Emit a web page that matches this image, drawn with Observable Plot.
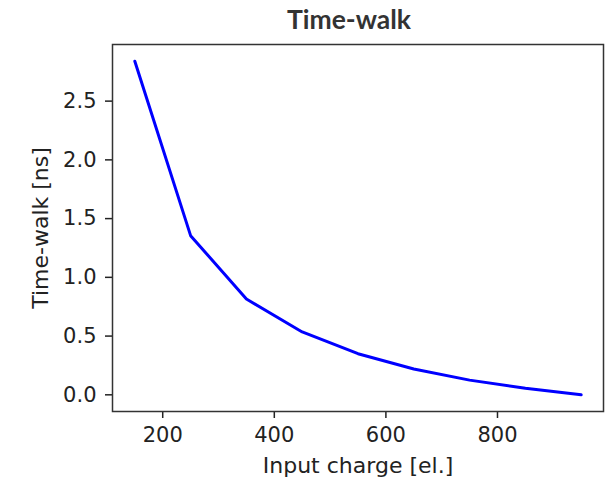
<!DOCTYPE html>
<html>
<head>
<meta charset="utf-8">
<script src="https://cdn.jsdelivr.net/npm/d3@7"></script>
<script src="https://cdn.jsdelivr.net/npm/@observablehq/plot@0.6"></script>
<style>
  html, body { margin: 0; padding: 0; background: #fff; }
  #wrap { width: 611px; height: 478px; position: relative; }
  #title { position: absolute; left: 0; top: 0; width: 698px; height: 40px;
    text-align: center; font-family: Lato, sans-serif; font-weight: bold;
    font-size: 26.5px; line-height: 39px; color: #333; }
  #chart { position: absolute; left: 0; top: 40px; }
</style>
</head>
<body>
<div id="wrap">
  <div id="title">Time-walk</div>
  <div id="chart"></div>
</div>
<script>
const charges = [150, 250, 350, 450, 550, 650, 750, 850, 950];
const timewalk = [2.84, 1.355, 0.815, 0.535, 0.35, 0.22, 0.125, 0.055, 0.0];
const xTicks = [200, 400, 600, 800];
const yTicks = [0, 0.5, 1.0, 1.5, 2.0, 2.5];
const xLabel = "Input charge [el.]";
const yLabel = "Time-walk [ns]";

const data = charges.map((c, i) => ({charge: c, tw: timewalk[i]}));
const font = "DejaVu Sans, sans-serif";

const plot = Plot.plot({
  width: 611,
  height: 438,
  marginLeft: 112,
  marginRight: 8,
  marginTop: 4,
  marginBottom: 67,
  style: {fontFamily: font, background: "#fff", color: "#222"},
  x: {domain: [110, 990], label: null},
  y: {domain: [-0.142, 2.982], label: null},
  marks: [
    Plot.axisX({ticks: xTicks, tickSize: 7, tickPadding: 9, fontSize: 21, label: null, stroke: "#222", strokeWidth: 1.5}),
    Plot.axisY({ticks: yTicks, tickSize: 7, tickPadding: 9, fontSize: 21, label: null, tickFormat: d3.format(".1f"), stroke: "#222", strokeWidth: 1.5}),
    Plot.line(data, {x: "charge", y: "tw", stroke: "#0000ff", strokeWidth: 3}),
    Plot.frame({stroke: "#333", strokeWidth: 1.5}),
    Plot.text([xLabel], {frameAnchor: "bottom", dy: 54, textAnchor: "middle", lineAnchor: "middle", text: d => d, fontSize: 22, fill: "#222"}),
    Plot.text([yLabel], {frameAnchor: "left", dx: -72, rotate: -90, textAnchor: "middle", lineAnchor: "middle", text: d => d, fontSize: 22, fill: "#222"})
  ]
});
document.getElementById("chart").appendChild(plot);
</script>
</body>
</html>
